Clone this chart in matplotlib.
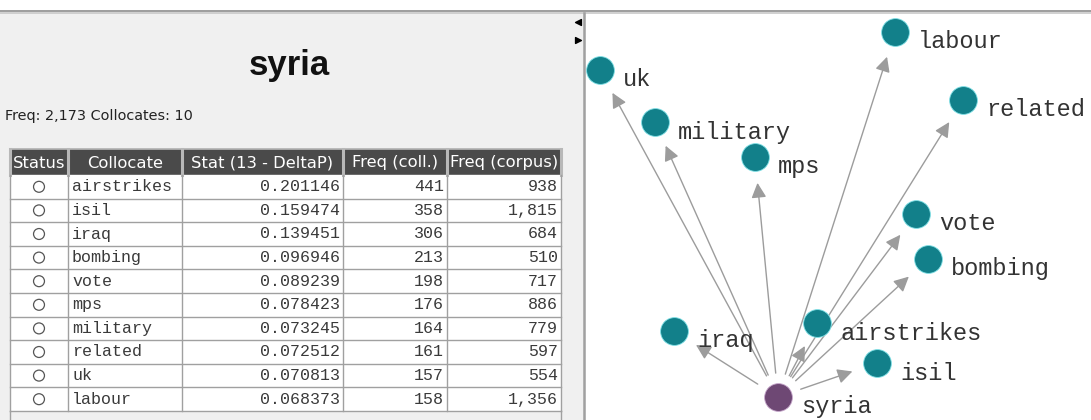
"""
GraphColl: kolokacje dla 'syria' (tabela + graf).
"""
import matplotlib
matplotlib.use("Agg")
import matplotlib.pyplot as plt
from matplotlib.patches import Rectangle

# --- dane -------------------------------------------------------------
wezel = "syria"
freq_wezla = 2173
kolokaty = ["airstrikes", "isil", "iraq", "bombing", "vote", "mps",
            "military", "related", "uk", "labour"]
stat = [0.201146, 0.159474, 0.139451, 0.096946, 0.089239, 0.078423,
        0.073245, 0.072512, 0.070813, 0.068373]
freq_coll = [441, 358, 306, 213, 198, 176, 164, 161, 157, 158]
freq_corpus = [938, 1815, 684, 510, 717, 886, 779, 597, 554, 1356]
naglowki = ["Status", "Collocate", "Stat (13 - DeltaP)", "Freq (coll.)", "Freq (corpus)"]

# uklad grafu (wspolrzedne wezlow)
wezel_xy = (778, 397)
graf_x = [817, 877, 674, 928, 916, 755, 655, 963, 600, 895]
graf_y = [323, 363, 331, 259, 214, 157, 122, 100, 70, 32]

# --- wyglad -----------------------------------------------------------
TLO = "#f0f0f0"
SZARY = "#a0a0a0"
TEAL = "#12808a"
FIOLET = "#6e4874"
kolumny = [10, 68, 182, 343, 447, 561]
naglowek_y = (149, 175)
wiersz_h = 23.6

fig = plt.figure(figsize=(10.91, 4.2), dpi=100)
ax = fig.add_axes([0, 0, 1, 1])
ax.set_xlim(0, 1091)
ax.set_ylim(420, 0)
ax.axis("off")

# ramki okna
ax.add_patch(Rectangle((0, 0), 1091, 420, color="white", zorder=0))
ax.add_patch(Rectangle((0, 13), 584, 407, color=TLO, zorder=0))
ax.plot([0, 1091], [10.5, 10.5], color="#8c8c8c", lw=1.2)
ax.plot([0, 1091], [13, 13], color="#c8c8c8", lw=1.2)
ax.plot([584, 584], [13, 420], color=SZARY, lw=1.8)
ax.scatter([578], [22], marker="<", s=18, color="black", zorder=5)
ax.scatter([578], [40], marker=">", s=18, color="black", zorder=5)

# --- panel lewy -------------------------------------------------------
ax.text(289, 65, wezel, ha="center", va="center", fontsize=25,
        fontweight="bold", family="Liberation Sans", color="#111111")
ax.text(5, 116, "Freq: %s Collocates: %d" % (format(freq_wezla, ","), len(kolokaty)),
        ha="left", va="center", fontsize=10.4, family="DejaVu Sans", color="#222222")

# tabela
y0 = naglowek_y[1]
y_kon = y0 + wiersz_h * len(kolokaty)
ax.add_patch(Rectangle((kolumny[0], naglowek_y[0]), kolumny[-1] - kolumny[0],
                       naglowek_y[1] - naglowek_y[0], color="#4a4a4a", zorder=1))
ax.add_patch(Rectangle((kolumny[0], y0), kolumny[-1] - kolumny[0], y_kon - y0,
                       color="white", zorder=1))
for i, tekst in enumerate(naglowki):
    xc = (kolumny[i] + kolumny[i + 1]) / 2
    ax.text(xc, sum(naglowek_y) / 2 + 1, tekst, ha="center", va="center",
            fontsize=11.8, color="white", family="DejaVu Sans", zorder=3)
for x in kolumny:
    ax.plot([x, x], [naglowek_y[0], naglowek_y[1]], color="#b8b8b8", lw=2.2, zorder=2)
    ax.plot([x, x], [y0, y_kon], color=SZARY, lw=1, zorder=2)
ax.plot([kolumny[0], kolumny[0]], [y_kon, 420], color=SZARY, lw=1, zorder=2)
ax.plot([kolumny[-1], kolumny[-1]], [y_kon, 420], color=SZARY, lw=1, zorder=2)
ax.plot([kolumny[0], kolumny[-1]], [naglowek_y[0], naglowek_y[0]], color="#b8b8b8", lw=1.2, zorder=2)

for i, nazwa in enumerate(kolokaty):
    yc = y0 + wiersz_h * (i + 0.5)
    ax.plot([kolumny[0], kolumny[-1]], [y0 + wiersz_h * (i + 1)] * 2, color=SZARY, lw=1, zorder=2)
    ax.scatter([(kolumny[0] + kolumny[1]) / 2], [yc], s=62, facecolor="none",
               edgecolor="#555555", lw=0.9, zorder=3)
    wartosci = ["%.6f" % stat[i], format(freq_coll[i], ","), format(freq_corpus[i], ",")]
    ax.text(kolumny[1] + 4, yc, nazwa, ha="left", va="center", fontsize=12,
            family="Liberation Mono", color="#3a3a3a", zorder=3)
    for j, w in enumerate(wartosci):
        ax.text(kolumny[j + 3] - 3, yc, w, ha="right", va="center", fontsize=12,
                family="Liberation Mono", color="#3a3a3a", zorder=3)

# --- graf -------------------------------------------------------------
for x, y in zip(graf_x, graf_y):
    dx, dy = x - wezel_xy[0], y - wezel_xy[1]
    d = (dx ** 2 + dy ** 2) ** 0.5
    start = (wezel_xy[0] + dx / d * 24, wezel_xy[1] + dy / d * 24)
    koniec = (x - dx / d * 26, y - dy / d * 26)
    ax.annotate("", xy=koniec, xytext=start,
                arrowprops=dict(arrowstyle="-|>,head_length=0.5,head_width=0.25",
                                color="#9c9c9c", lw=1, shrinkA=0, shrinkB=0,
                                mutation_scale=18), zorder=4)

ax.scatter(graf_x, graf_y, s=400, color=TEAL, edgecolor="#7fe0e6", lw=0.6, zorder=5)
ax.scatter([wezel_xy[0]], [wezel_xy[1]], s=400, color=FIOLET, edgecolor="#c7a7cc",
           lw=0.6, zorder=5)
for nazwa, x, y in zip(kolokaty + [wezel], graf_x + [wezel_xy[0]], graf_y + [wezel_xy[1]]):
    ax.text(x + 23, y + 10, nazwa, ha="left", va="center", fontsize=17,
            family="Liberation Mono", color="#333333", zorder=6)

fig.savefig("out.png", dpi=100)
